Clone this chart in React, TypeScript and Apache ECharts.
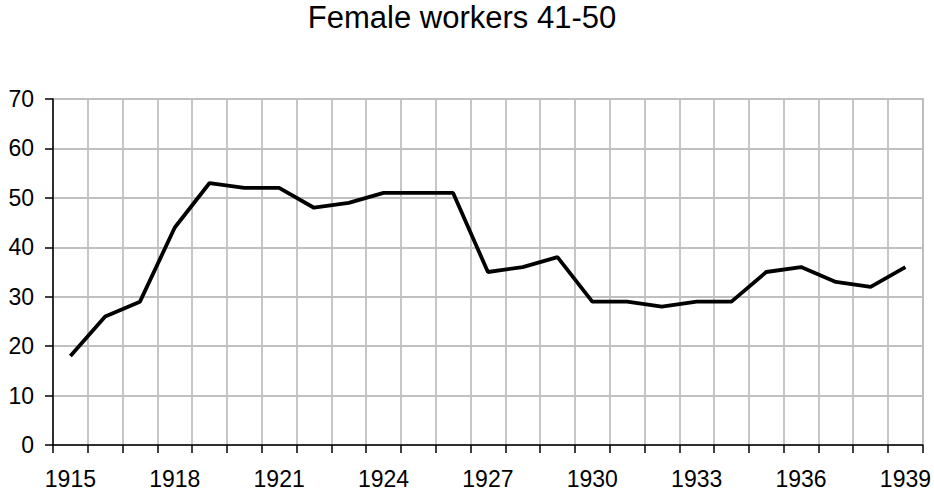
import React, { useEffect, useRef } from "react";
import * as echarts from "echarts";

const years = [
  "1915", "1916", "1917", "1918", "1919", "1920", "1921", "1922", "1923", "1924",
  "1925", "1926", "1927", "1928", "1929", "1930", "1931", "1932", "1933", "1934",
  "1935", "1936", "1937", "1938", "1939",
];
const values = [
  18, 26, 29, 44, 53, 52, 52, 48, 49, 51,
  51, 51, 35, 36, 38, 29, 29, 28, 29, 29,
  35, 36, 33, 32, 36,
];
const titleText = "Female workers 41-50";

export default function App() {
  const ref = useRef<HTMLDivElement>(null);
  useEffect(() => {
    if (!ref.current) return;
    const chart = echarts.init(ref.current, null, { renderer: "svg" });
    const font = "'Liberation Sans', Arial, sans-serif";
    chart.setOption({
      animation: false,
      backgroundColor: "#ffffff",
      title: {
        text: titleText,
        left: 462,
        textAlign: "center",
        top: 2,
        padding: 0,
        textStyle: { fontFamily: font, fontSize: 31, fontWeight: "normal", color: "#000" },
      },
      grid: {
        left: 53,
        top: 99,
        width: 870,
        height: 346,
        show: true,
        borderColor: "#808080",
        borderWidth: 1.5,
        backgroundColor: "transparent",
      },
      xAxis: {
        type: "category",
        data: years,
        boundaryGap: true,
        axisLine: { show: true, lineStyle: { color: "#000", width: 1.5 } },
        axisTick: { show: true, interval: 0, length: 8, lineStyle: { color: "#000", width: 1.5 } },
        axisLabel: {
          interval: 2,
          fontFamily: font,
          fontSize: 23,
          color: "#000",
          margin: 22,
        },
        splitLine: { show: true, interval: 0, lineStyle: { color: "#c0c0c0", width: 1.8 } },
      },
      yAxis: {
        type: "value",
        min: 0,
        max: 70,
        interval: 10,
        axisLine: { show: true, lineStyle: { color: "#000", width: 1.5 } },
        axisTick: { show: true, length: 8, lineStyle: { color: "#000", width: 1.5 } },
        axisLabel: { fontFamily: font, fontSize: 23, color: "#000", margin: 19 },
        splitLine: { show: true, lineStyle: { color: "#c0c0c0", width: 1.8 } },
      },
      series: [
        {
          type: "line",
          data: values,
          showSymbol: false,
          symbol: "none",
          lineStyle: { color: "#000", width: 3.8 },
        },
      ],
    });
    return () => chart.dispose();
  }, []);
  return (
    <div
      ref={ref}
      style={{ position: "fixed", left: 0, top: 0, width: 934, height: 494 }}
    />
  );
}
